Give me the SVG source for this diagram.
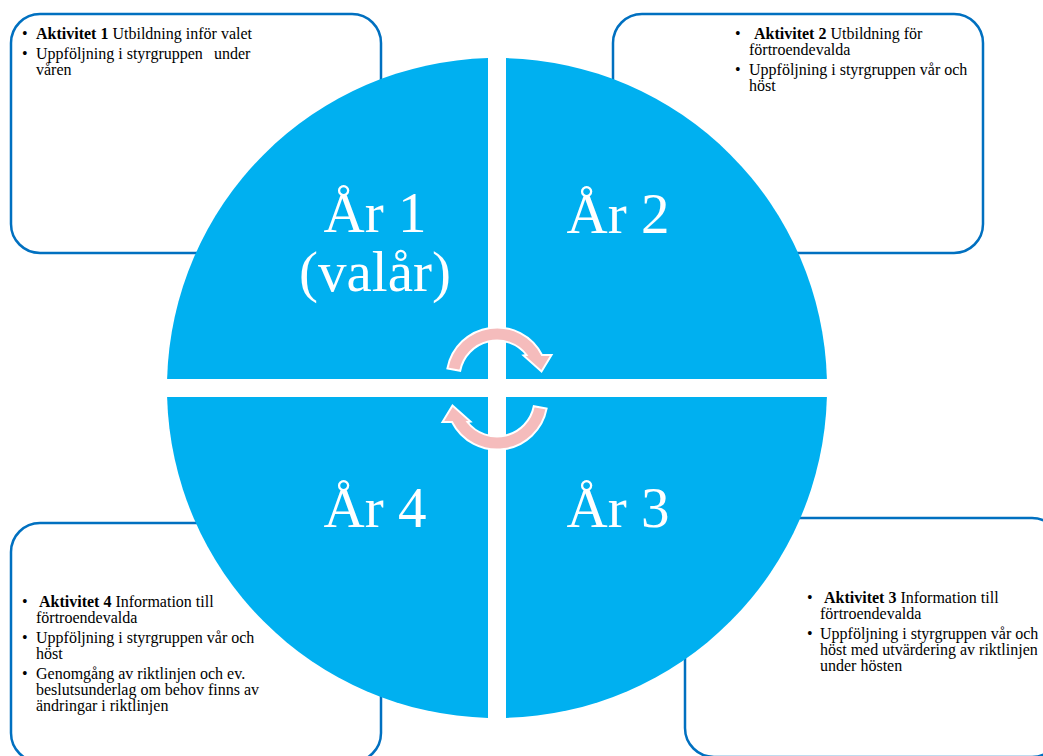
<svg xmlns="http://www.w3.org/2000/svg" width="1043" height="756" viewBox="0 0 1043 756">
<style>
.box{fill:#FFFFFF;stroke:#0070C0;stroke-width:2.5}
.q{fill:#00B0F0}
.big{font-family:"Liberation Serif","Times New Roman",serif;font-size:57px;fill:#FFFFFF;text-anchor:middle}
.t{font-family:"Liberation Serif","Times New Roman",serif;font-size:16px;fill:#000000}
.b{font-weight:bold}
.arr{fill:#F5BCBC;stroke:#FFFFFF;stroke-width:2;stroke-linejoin:miter}
</style>
<defs>
<path id="carrow" d="M447.4,368.4 A50.5,50.5 0 0 1 542,355 L551.5,355 L541.5,371.5 L523.5,355.5 L526.6,355 A37.5,37.5 0 0 0 460.2,370.8 Z"/>
</defs>
<rect width="1043" height="756" fill="#FFFFFF"/>
<g id="box1">
<rect class="box" x="11" y="14" width="370" height="239" rx="29"/>
<text class="t" x="22" y="39">•</text>
<text class="t" x="36" y="39"><tspan class="b">Aktivitet 1</tspan> Utbildning inför valet</text>
<text class="t" x="22" y="59">•</text>
<text class="t" x="36" y="59">Uppföljning i styrgruppen</text>
<text class="t" x="214" y="59">under</text>
<text class="t" x="36" y="75">våren</text>
</g>
<g id="box2">
<rect class="box" x="613" y="14" width="370" height="239" rx="29"/>
<text class="t" x="735" y="39">•</text>
<text class="t" x="754" y="39"><tspan class="b">Aktivitet 2</tspan> Utbildning för</text>
<text class="t" x="749" y="55">förtroendevalda</text>
<text class="t" x="735" y="75">•</text>
<text class="t" x="749" y="75">Uppföljning i styrgruppen vår och</text>
<text class="t" x="749" y="91">höst</text>
</g>
<g id="box4">
<rect class="box" x="11" y="523" width="370" height="239" rx="29"/>
<text class="t" x="22" y="607">•</text>
<text class="t" x="39" y="607"><tspan class="b">Aktivitet 4</tspan> Information till</text>
<text class="t" x="36" y="623">förtroendevalda</text>
<text class="t" x="22" y="643">•</text>
<text class="t" x="36" y="643">Uppföljning i styrgruppen vår och</text>
<text class="t" x="36" y="659">höst</text>
<text class="t" x="22" y="679">•</text>
<text class="t" x="36" y="679">Genomgång av riktlinjen och ev.</text>
<text class="t" x="36" y="695">beslutsunderlag om behov finns av</text>
<text class="t" x="36" y="711">ändringar i riktlinjen</text>
</g>
<g id="box3">
<rect class="box" x="685" y="518" width="376" height="239" rx="29"/>
<text class="t" x="807" y="603">•</text>
<text class="t" x="824" y="603"><tspan class="b">Aktivitet 3</tspan> Information till</text>
<text class="t" x="820" y="619">förtroendevalda</text>
<text class="t" x="807" y="639">•</text>
<text class="t" x="820" y="639">Uppföljning i styrgruppen vår och</text>
<text class="t" x="820" y="655">höst med utvärdering av riktlinjen</text>
<text class="t" x="820" y="671">under hösten</text>
</g>
<g id="year1">
<path class="q" d="M488,58.1 A330,330 0 0 0 167.1,379 L488,379 Z"/>
<text class="big" x="375" y="232">År 1</text>
<text class="big" x="375" y="291">(valår)</text>
</g>
<g id="year2">
<path class="q" d="M506,58.1 A330,330 0 0 1 826.9,379 L506,379 Z"/>
<text class="big" x="618" y="233">År 2</text>
</g>
<g id="year3">
<path class="q" d="M826.9,397 A330,330 0 0 1 506,717.9 L506,397 Z"/>
<text class="big" x="618" y="527">År 3</text>
</g>
<g id="year4">
<path class="q" d="M488,717.9 A330,330 0 0 1 167.1,397 L488,397 Z"/>
<text class="big" x="375" y="527">År 4</text>
</g>
<g id="connectors">
<use href="#carrow" class="arr"/>
<use href="#carrow" class="arr" transform="rotate(180 497 388.5)"/>
</g>
</svg>
